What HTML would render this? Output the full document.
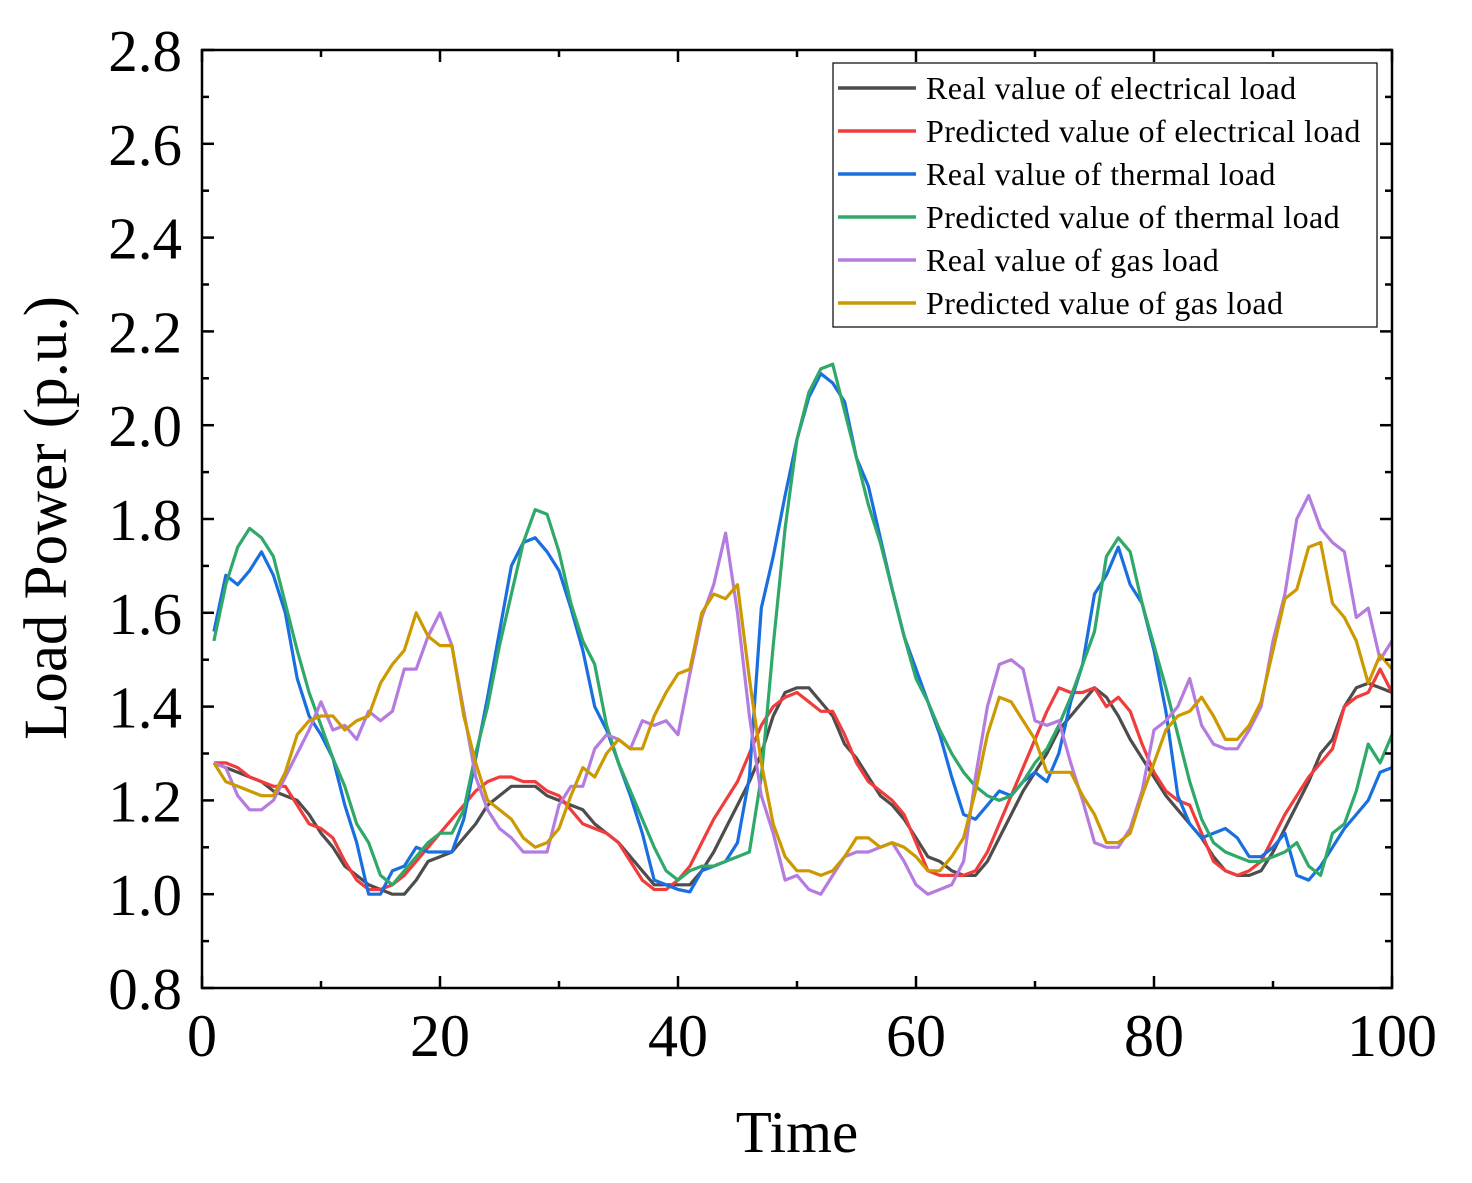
<!DOCTYPE html>
<html><head><meta charset="utf-8"><style>
html,body{margin:0;padding:0;background:#fff;}
svg{display:block;font-family:"Liberation Serif",serif;}
</style></head><body>
<svg id="chart" width="1472" height="1183" viewBox="0 0 1472 1183" xmlns="http://www.w3.org/2000/svg">
<g id="series"></g>
<g id="axes"></g>
<g id="legend"></g>
</svg>
<script>
const xTicks = [0, 20, 40, 60, 80, 100];
const yTicks = [0.8, 1.0, 1.2, 1.4, 1.6, 1.8, 2.0, 2.2, 2.4, 2.6, 2.8];
const realElec = [1.28,1.27,1.26,1.25,1.24,1.22,1.21,1.20,1.17,1.13,1.10,1.06,1.04,1.02,1.01,1.00,1.00,1.03,1.07,1.08,1.09,1.12,1.15,1.19,1.21,1.23,1.23,1.23,1.21,1.20,1.19,1.18,1.15,1.13,1.11,1.08,1.05,1.02,1.02,1.02,1.02,1.05,1.09,1.14,1.19,1.24,1.30,1.38,1.43,1.44,1.44,1.41,1.38,1.32,1.29,1.25,1.21,1.19,1.16,1.12,1.08,1.07,1.05,1.04,1.04,1.07,1.12,1.17,1.22,1.26,1.30,1.35,1.38,1.41,1.44,1.42,1.38,1.33,1.29,1.25,1.21,1.18,1.15,1.12,1.08,1.05,1.04,1.04,1.05,1.09,1.14,1.19,1.24,1.30,1.33,1.40,1.44,1.45,1.44,1.43];
const predElec = [1.28,1.28,1.27,1.25,1.24,1.23,1.23,1.19,1.15,1.14,1.12,1.07,1.03,1.01,1.01,1.02,1.04,1.07,1.10,1.13,1.16,1.19,1.22,1.24,1.25,1.25,1.24,1.24,1.22,1.21,1.18,1.15,1.14,1.13,1.11,1.07,1.03,1.01,1.01,1.03,1.06,1.11,1.16,1.20,1.24,1.30,1.36,1.40,1.42,1.43,1.41,1.39,1.39,1.34,1.28,1.24,1.22,1.20,1.17,1.11,1.05,1.04,1.04,1.04,1.05,1.09,1.15,1.21,1.27,1.33,1.39,1.44,1.43,1.43,1.44,1.40,1.42,1.39,1.32,1.26,1.22,1.20,1.19,1.13,1.07,1.05,1.04,1.05,1.07,1.12,1.17,1.21,1.25,1.28,1.31,1.40,1.42,1.43,1.48,1.43];
const realTherm = [1.56,1.68,1.66,1.69,1.73,1.68,1.60,1.46,1.38,1.34,1.29,1.19,1.11,1.00,1.00,1.05,1.06,1.10,1.09,1.09,1.09,1.16,1.29,1.42,1.56,1.70,1.75,1.76,1.73,1.69,1.61,1.52,1.40,1.35,1.28,1.21,1.13,1.03,1.02,1.01,1.005,1.05,1.06,1.07,1.11,1.25,1.61,1.72,1.85,1.97,2.06,2.11,2.09,2.05,1.93,1.87,1.76,1.65,1.55,1.48,1.41,1.34,1.25,1.17,1.16,1.19,1.22,1.21,1.24,1.26,1.24,1.30,1.41,1.49,1.64,1.68,1.74,1.66,1.62,1.52,1.39,1.21,1.15,1.12,1.13,1.14,1.12,1.08,1.08,1.10,1.13,1.04,1.03,1.06,1.10,1.14,1.17,1.20,1.26,1.27];
const predTherm = [1.54,1.66,1.74,1.78,1.76,1.72,1.62,1.52,1.43,1.36,1.29,1.23,1.15,1.11,1.04,1.02,1.05,1.08,1.11,1.13,1.13,1.18,1.30,1.40,1.53,1.64,1.75,1.82,1.81,1.73,1.62,1.54,1.49,1.36,1.28,1.22,1.16,1.10,1.05,1.03,1.05,1.06,1.06,1.07,1.08,1.09,1.25,1.53,1.78,1.97,2.07,2.12,2.13,2.03,1.93,1.83,1.75,1.65,1.55,1.46,1.41,1.35,1.30,1.26,1.23,1.21,1.20,1.21,1.24,1.28,1.31,1.36,1.42,1.49,1.56,1.72,1.76,1.73,1.62,1.53,1.44,1.34,1.24,1.16,1.11,1.09,1.08,1.07,1.07,1.08,1.09,1.11,1.06,1.04,1.13,1.15,1.22,1.32,1.28,1.34];
const realGas = [1.28,1.27,1.21,1.18,1.18,1.20,1.25,1.30,1.35,1.41,1.35,1.36,1.33,1.39,1.37,1.39,1.48,1.48,1.55,1.60,1.53,1.39,1.25,1.18,1.14,1.12,1.09,1.09,1.09,1.19,1.23,1.23,1.31,1.34,1.33,1.31,1.37,1.36,1.37,1.34,1.47,1.59,1.66,1.77,1.60,1.38,1.21,1.13,1.03,1.04,1.01,1.00,1.04,1.08,1.09,1.09,1.10,1.11,1.07,1.02,1.00,1.01,1.02,1.07,1.25,1.40,1.49,1.50,1.48,1.37,1.36,1.37,1.28,1.20,1.11,1.10,1.10,1.14,1.22,1.35,1.37,1.40,1.46,1.36,1.32,1.31,1.31,1.35,1.40,1.54,1.64,1.80,1.85,1.78,1.75,1.73,1.59,1.61,1.50,1.54];
const predGas = [1.28,1.24,1.23,1.22,1.21,1.21,1.26,1.34,1.37,1.38,1.38,1.35,1.37,1.38,1.45,1.49,1.52,1.60,1.55,1.53,1.53,1.38,1.28,1.20,1.18,1.16,1.12,1.10,1.11,1.14,1.21,1.27,1.25,1.30,1.33,1.31,1.31,1.38,1.43,1.47,1.48,1.60,1.64,1.63,1.66,1.46,1.28,1.15,1.08,1.05,1.05,1.04,1.05,1.08,1.12,1.12,1.10,1.11,1.10,1.08,1.05,1.05,1.08,1.12,1.22,1.34,1.42,1.41,1.37,1.33,1.26,1.26,1.26,1.21,1.17,1.11,1.11,1.13,1.21,1.28,1.35,1.38,1.39,1.42,1.38,1.33,1.33,1.36,1.41,1.52,1.63,1.65,1.74,1.75,1.62,1.59,1.54,1.45,1.51,1.48];
const seriesNames = ["Real value of electrical load","Predicted value of electrical load","Real value of thermal load","Predicted value of thermal load","Real value of gas load","Predicted value of gas load"];
const seriesKeys = ["real-electrical","predicted-electrical","real-thermal","predicted-thermal","real-gas","predicted-gas"];

const NS = "http://www.w3.org/2000/svg";
const L = 202, R = 1392, T = 50, B = 988;
const xS = v => L + (v - 0) / 100 * (R - L);
const yS = v => B - (v - 0.8) / 2.0 * (B - T);
function mk(tag, attrs, parent){ const e = document.createElementNS(NS, tag); for (const k in attrs) e.setAttribute(k, attrs[k]); parent.appendChild(e); return e; }

const colors = ["#4d4d4d","#f03c3c","#1a6fe0","#2fa86a","#b57ce0","#cc9900"];
const data = [realElec, predElec, realTherm, predTherm, realGas, predGas];
const sg = document.getElementById('series');
data.forEach((arr, i) => {
  const pts = arr.map((v, j) => xS(j + 1).toFixed(1) + ',' + yS(v).toFixed(1)).join(' ');
  const pl = mk('polyline', {points: pts, fill: 'none', stroke: colors[i], 'stroke-width': 3.2, 'stroke-linejoin': 'round'}, sg);
  
  
});

const ag = document.getElementById('axes');
const frame = mk('rect', {x: L, y: T, width: R - L, height: B - T, fill: 'none', stroke: '#000', 'stroke-width': 2.5}, ag);


for (let v = 0; v <= 100; v += 10) {
  const x = xS(v), major = v % 20 === 0, len = major ? 12 : 7;
  mk('line', {x1: x, y1: B, x2: x, y2: B - len, stroke: '#000', 'stroke-width': 2.5}, ag);
  mk('line', {x1: x, y1: T, x2: x, y2: T + len, stroke: '#000', 'stroke-width': 2.5}, ag);
}
xTicks.forEach(v => {
  const t = mk('text', {x: xS(v), y: 1056, 'font-size': 60, 'text-anchor': 'middle'}, ag);
  t.textContent = v;
  
  
});
for (let k = 0; k <= 20; k++) {
  const v = 0.8 + k * 0.1, y = yS(v), major = k % 2 === 0, len = major ? 12 : 7;
  mk('line', {x1: L, y1: y, x2: L + len, y2: y, stroke: '#000', 'stroke-width': 2.5}, ag);
  mk('line', {x1: R, y1: y, x2: R - len, y2: y, stroke: '#000', 'stroke-width': 2.5}, ag);
}
yTicks.forEach(v => {
  const t = mk('text', {x: 182, y: yS(v) + 21, 'font-size': 59, 'text-anchor': 'end'}, ag);
  t.textContent = v.toFixed(1);
  
  
});
const xt = mk('text', {x: 797, y: 1152, 'font-size': 59, 'text-anchor': 'middle'}, ag);
xt.textContent = 'Time';


const yt = mk('text', {x: 0, y: 0, 'font-size': 61, 'text-anchor': 'middle', transform: 'translate(66,518) rotate(-90)'}, ag);
yt.textContent = 'Load Power (p.u.)';



const lg = document.getElementById('legend');
const box = mk('rect', {x: 833, y: 63, width: 544, height: 264, fill: '#fff', stroke: '#000', 'stroke-width': 1.2}, lg);


seriesNames.forEach((n, i) => {
  const y = 88 + i * 43;
  const g = mk('g', {}, lg);
  
  
  mk('line', {x1: 838, y1: y, x2: 916, y2: y, stroke: colors[i], 'stroke-width': 3.5}, g);
  const t = mk('text', {x: 926, y: y + 11, 'font-size': 32, 'letter-spacing': 0.4}, g);
  t.textContent = n;
});
</script>
</body></html>
